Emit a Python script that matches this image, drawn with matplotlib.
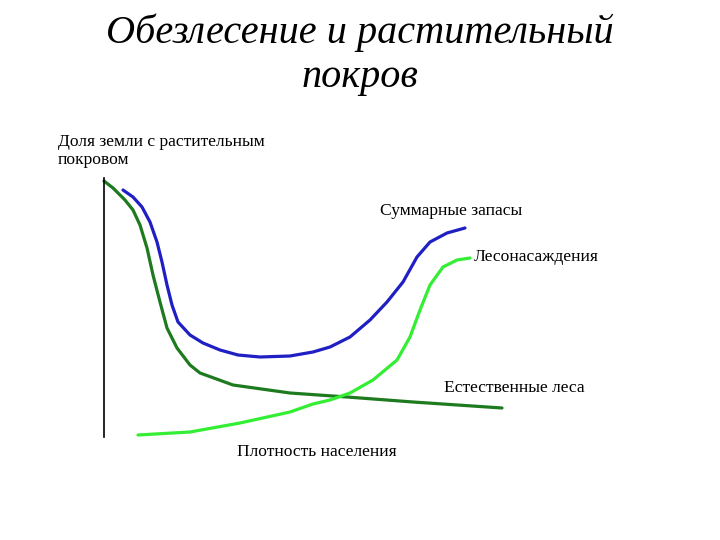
import matplotlib
matplotlib.use("Agg")
import matplotlib.pyplot as plt

plt.rcParams['font.family'] = ['Liberation Serif', 'DejaVu Serif']

# curves (x = time, y = share of land with cover)
natural_x = [0, 9, 21, 29, 36, 43, 49, 56, 63, 73, 86, 96, 129, 186, 243, 309, 398]
natural_y = [256, 249, 237, 227, 212, 189, 162, 135, 109, 89, 72, 64, 52, 44, 40, 35, 29]

total_x = [19, 29, 38, 46, 53, 58, 63, 68, 74, 86, 99, 116, 134, 156, 186, 209,
           226, 246, 266, 283, 299, 313, 326, 343, 361]
total_y = [247, 240, 230, 215, 195, 175, 152, 132, 115, 102, 94, 87, 82, 80, 81, 85,
           90, 100, 117, 135, 155, 180, 195, 204, 209]

planted_x = [34, 86, 136, 186, 209, 226, 246, 269, 293, 306, 316, 326, 339, 353, 366]
planted_y = [2, 5, 14, 25, 33, 37, 44, 57, 77, 100, 127, 152, 170, 177, 179]

W, H = 720, 540
fig = plt.figure(figsize=(7.2, 5.4), dpi=100)
ax = fig.add_axes([104 / W, (H - 437) / H, 516 / W, 259 / H])
ax.set_xlim(0, 516)
ax.set_ylim(0, 259)
for s in ['top', 'right', 'bottom']:
    ax.spines[s].set_visible(False)
ax.spines['left'].set_linewidth(1.2)
ax.set_xticks([])
ax.set_yticks([])
ax.patch.set_alpha(0)

lw = 2.3
style = dict(lw=lw, solid_capstyle='round', solid_joinstyle='round', clip_on=False)
ax.plot(natural_x, natural_y, color='#1e7a1e', **style)
ax.plot(total_x, total_y, color='#1f1fc4', **style)
ax.plot(planted_x, planted_y, color='#33ee33', **style)


def ftext(px, py, s, **kw):
    fig.text(px / W, 1 - py / H, s, **kw)


ftext(360, 33, 'Обезлесение и растительный', fontsize=29, style='italic',
      ha='center', va='center')
ftext(360, 77, 'покров', fontsize=29, style='italic', ha='center', va='center')

fs = 12.6
ftext(58, 134, 'Доля земли с растительным\nпокровом', fontsize=fs, ha='left',
      va='top', linespacing=1.2)
ftext(380, 211, 'Суммарные запасы', fontsize=fs, ha='left', va='center')
ftext(474, 257, 'Лесонасаждения', fontsize=fs, ha='left', va='center')
ftext(444, 388, 'Естественные леса', fontsize=fs, ha='left', va='center')
ftext(237, 452, 'Плотность населения', fontsize=fs, ha='left', va='center')

fig.savefig('out.png', dpi=100)
